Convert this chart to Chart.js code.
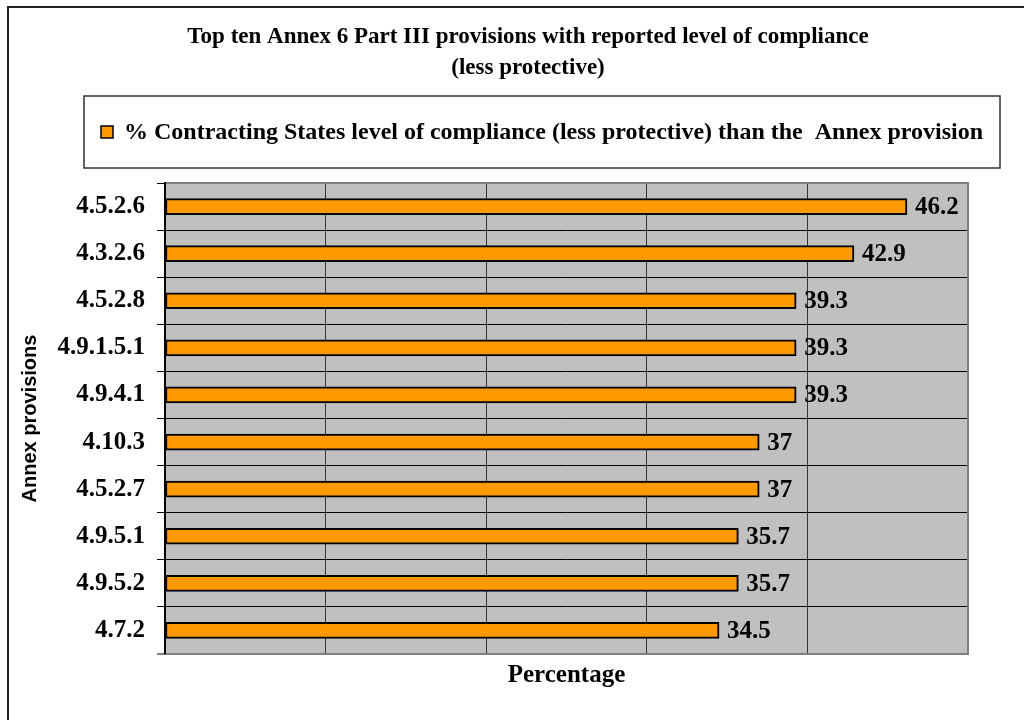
<!DOCTYPE html>
<html>
<head>
<meta charset="utf-8">
<title>Annex 6 Part III compliance</title>
<script src="https://cdn.jsdelivr.net/npm/chart.js"></script>
<style>
    html, body { margin: 0; padding: 0; background: #fff; }
    #wrap { width: 1024px; height: 720px; }
</style>
</head>
<body>
<div id="wrap"><canvas id="complianceChart"></canvas></div>
<script>
// Data
const provisions = ['4.5.2.6', '4.3.2.6', '4.5.2.8', '4.9.1.5.1', '4.9.4.1', '4.10.3', '4.5.2.7', '4.9.5.1', '4.9.5.2', '4.7.2'];
const lessProtective = [46.2, 42.9, 39.3, 39.3, 39.3, 37, 37, 35.7, 35.7, 34.5];
const seriesName = '% Contracting States level of compliance (less protective) than the  Annex provision';
const titleLines = ['Top ten Annex 6 Part III provisions with reported level of compliance', '(less protective)'];
const xTicks = [0, 10, 20, 30, 40, 50];

const SERIF = "'Liberation Serif', 'Times New Roman', serif";
const SANS = "'Liberation Sans', Arial, sans-serif";
const ORANGE = '#ff9900';

// Outer frame, plot background, title, legend box and value labels
const framePlugin = {
    id: 'frame',
    beforeDraw(chart) {
        const { ctx, chartArea: a } = chart;
        ctx.save();
        ctx.fillStyle = '#fff';
        ctx.fillRect(0, 0, chart.width, chart.height);
        ctx.strokeStyle = '#222';
        ctx.lineWidth = 2;
        ctx.strokeRect(8, 7, chart.width, chart.height);
        ctx.fillStyle = '#c0c0c0';
        ctx.fillRect(a.left, a.top, a.right - a.left, a.bottom - a.top);
        ctx.restore();
    },
    afterDatasetsDraw(chart) {
        const { ctx } = chart;
        const meta = chart.getDatasetMeta(0);
        const values = chart.data.datasets[0].data;
        ctx.save();
        ctx.font = 'bold 25px ' + SERIF;
        ctx.fillStyle = '#000';
        ctx.textAlign = 'left';
        ctx.textBaseline = 'middle';
        meta.data.forEach((bar, i) => {
            ctx.fillText(String(values[i]), bar.x + 8, bar.y + 1);
        });
        ctx.restore();
    },
    afterDraw(chart) {
        const { ctx, chartArea: a } = chart;
        ctx.save();

        // plot border (top, right, bottom)
        ctx.strokeStyle = '#808080';
        ctx.lineWidth = 2;
        ctx.beginPath();
        ctx.moveTo(a.left, a.top);
        ctx.lineTo(a.right, a.top);
        ctx.lineTo(a.right, a.bottom);
        ctx.lineTo(a.left - 8, a.bottom);
        ctx.stroke();
        ctx.strokeStyle = '#000';
        ctx.beginPath();
        ctx.moveTo(a.left, a.top - 1);
        ctx.lineTo(a.left, a.bottom);
        ctx.stroke();

        // title
        ctx.fillStyle = '#000';
        ctx.font = 'bold 23px ' + SERIF;
        ctx.textAlign = 'center';
        ctx.textBaseline = 'middle';
        titleLines.forEach((line, i) => ctx.fillText(line, 528, 37 + i * 31));

        // legend
        ctx.strokeStyle = '#333';
        ctx.lineWidth = 1.5;
        ctx.strokeRect(84, 96, 916, 72);
        ctx.fillStyle = ORANGE;
        ctx.fillRect(101, 126, 12, 12);
        ctx.strokeStyle = '#000';
        ctx.strokeRect(101, 126, 12, 12);
        ctx.fillStyle = '#000';
        ctx.font = 'bold 24px ' + SERIF;
        ctx.textAlign = 'left';
        ctx.fillText(chart.data.datasets[0].label, 124, 133);

        ctx.restore();
    }
};

const ctx = document.getElementById('complianceChart').getContext('2d');

const complianceChart = new Chart(ctx, {
    type: 'bar',
    data: {
        labels: provisions,
        datasets: [{
            label: seriesName,
            data: lessProtective,
            backgroundColor: ORANGE,
            borderColor: '#000',
            borderWidth: 2,
            borderSkipped: false,
            barThickness: 16
        }]
    },
    options: {
        indexAxis: 'y',
        responsive: true,
        maintainAspectRatio: false,
        animation: false,
        layout: {
            padding: { top: 183, left: 10, right: 56, bottom: 10 }
        },
        plugins: {
            legend: { display: false },
            title: { display: false },
            tooltip: { enabled: false }
        },
        scales: {
            x: {
                min: xTicks[0],
                max: xTicks[xTicks.length - 1],
                ticks: {
                    display: false,
                    stepSize: xTicks[1] - xTicks[0]
                },
                grid: {
                    color: '#333',
                    lineWidth: 1,
                    drawTicks: false
                },
                border: { display: false },
                title: {
                    display: true,
                    text: 'Percentage',
                    color: '#000',
                    font: { family: SERIF, size: 25, weight: 'bold' },
                    padding: { top: 0, bottom: 19 }
                },
                afterFit(scale) { scale.height = 56; }
            },
            y: {
                ticks: {
                    color: '#000',
                    padding: 12,
                    font: { family: SERIF, size: 25, weight: 'bold' }
                },
                grid: {
                    color: '#000',
                    lineWidth: 1,
                    tickLength: 8,
                    offset: true
                },
                border: { display: false },
                title: {
                    display: true,
                    text: 'Annex provisions',
                    color: '#000',
                    font: { family: SANS, size: 20, weight: 'bold' },
                    padding: { top: 8, bottom: 0 }
                },
                afterFit(scale) { scale.width = 155; }
            }
        }
    },
    plugins: [framePlugin]
});
</script>
</body>
</html>
